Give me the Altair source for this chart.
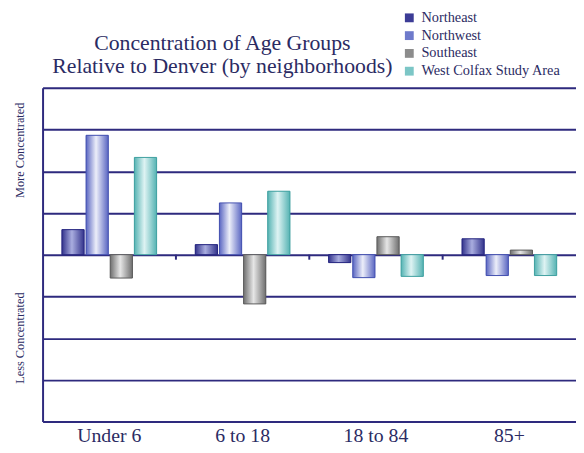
import altair as alt
import pandas as pd

groups = ["Under 6", "6 to 18", "18 to 84", "85+"]
series = ["Northeast", "Northwest", "Southeast", "West Colfax Study Area"]
northeast = [0.60, 0.24, -0.19, 0.38]
northwest = [2.86, 1.24, -0.55, -0.50]
southeast = [-0.56, -1.18, 0.43, 0.11]
west_colfax = [2.33, 1.52, -0.52, -0.50]
side_labels = ["More Concentrated", "Less Concentrated"]
side_label_pos = [2.5, -2.0]

FONT = "Liberation Serif, Times New Roman, DejaVu Serif, serif"
NAVY = "#2b2b63"
GRID = "#2e2a7e"

values = {
    "Northeast": northeast,
    "Northwest": northwest,
    "Southeast": southeast,
    "West Colfax Study Area": west_colfax,
}
rows = [
    {"group": g, "series": s, "value": v}
    for s in series
    for g, v in zip(groups, values[s])
]
df = pd.DataFrame(rows)
ticks_df = pd.DataFrame({"group": groups[1:], "top": [0.0] * 3, "bottom": [-0.12] * 3})
side_df = pd.DataFrame({"label": side_labels, "pos": side_label_pos})

solid = ["#3c3c96", "#6e7acb", "#8c8c8c", "#7cc6c6"]
edge = {
    "Northeast": ("#33338c", "#a9addf", "#262680"),
    "Northwest": ("#5a66c2", "#eceef9", "#4350b0"),
    "Southeast": ("#6f6f6f", "#e6e6e6", "#5c5c5c"),
    "West Colfax Study Area": ("#55b3b3", "#def3f3", "#3f9f9f"),
}

x_enc = alt.X(
    "group:N",
    sort=groups,
    scale=alt.Scale(paddingInner=0, paddingOuter=0),
    axis=alt.Axis(
        title=None, labelAngle=0, domain=False, ticks=False,
        labelFont=FONT, labelFontSize=20, labelColor=NAVY, labelPadding=4,
    ),
)
xo_enc = alt.XOffset(
    "series:N", sort=series,
    scale=alt.Scale(domain=series, paddingOuter=0.8, paddingInner=0.08),
)
y_axis = alt.Axis(
    title=None, values=list(range(-4, 5)), labels=False, ticks=False,
    grid=True, gridColor=GRID, gridWidth=2, gridOpacity=1,
    domain=True, domainColor=GRID, domainWidth=2,
)
y_scale = alt.Scale(domain=[-4, 4], nice=False)

legend_layer = alt.Chart(df).mark_bar().encode(
    x=x_enc,
    xOffset=xo_enc,
    y=alt.Y("value:Q", scale=y_scale, axis=y_axis),
    color=alt.Color(
        "series:N", sort=series,
        scale=alt.Scale(domain=series, range=solid),
        legend=alt.Legend(
            title=None, orient="none", legendX=364, legendY=-78,
            symbolType="square", symbolSize=80, symbolStrokeWidth=0,
            labelFont=FONT, labelFontSize=14.5, labelColor=NAVY,
            rowPadding=3, labelOffset=5, padding=0,
        ),
    ),
)

layers = [legend_layer]
for s in series:
    e, m, st = edge[s]
    grad = alt.Gradient(
        gradient="linear", x1=0, x2=1, y1=0, y2=0,
        stops=[
            alt.GradientStop(color=e, offset=0),
            alt.GradientStop(color=m, offset=0.45),
            alt.GradientStop(color=e, offset=1),
        ],
    )
    layers.append(
        alt.Chart(df)
        .transform_filter(alt.datum.series == s)
        .mark_bar(color=grad, stroke=st, strokeWidth=1)
        .encode(x=x_enc, xOffset=xo_enc, y=alt.Y("value:Q", scale=y_scale, axis=y_axis))
    )

tick_layer = alt.Chart(ticks_df).mark_rule(color=GRID, strokeWidth=2).encode(
    x=alt.X("group:N", sort=groups, bandPosition=0),
    y=alt.Y("top:Q", scale=y_scale, axis=y_axis),
    y2="bottom:Q",
)
side_layer = alt.Chart(side_df).mark_text(
    angle=270, font=FONT, fontSize=12.5, color=NAVY
).encode(
    x=alt.value(-23),
    y=alt.Y("pos:Q", scale=y_scale, axis=y_axis),
    text="label:N",
)
layers += [tick_layer, side_layer]

chart = (
    alt.layer(*layers)
    .properties(
        width=540,
        height=338,
        padding={"left": 5, "right": 0, "top": 0, "bottom": 0},
        title=alt.TitleParams(
            text=["Concentration of Age Groups", "Relative to Denver (by neighborhoods)"],
            font=FONT, fontSize=22, fontWeight="normal", color=NAVY,
            anchor="middle", dx=-88, offset=-68, lineHeight=23,
        ),
    )
    .configure_view(stroke=None)
    .configure(background="white")
)

chart.save("out.html", embed_options={"renderer": "svg", "actions": False})
